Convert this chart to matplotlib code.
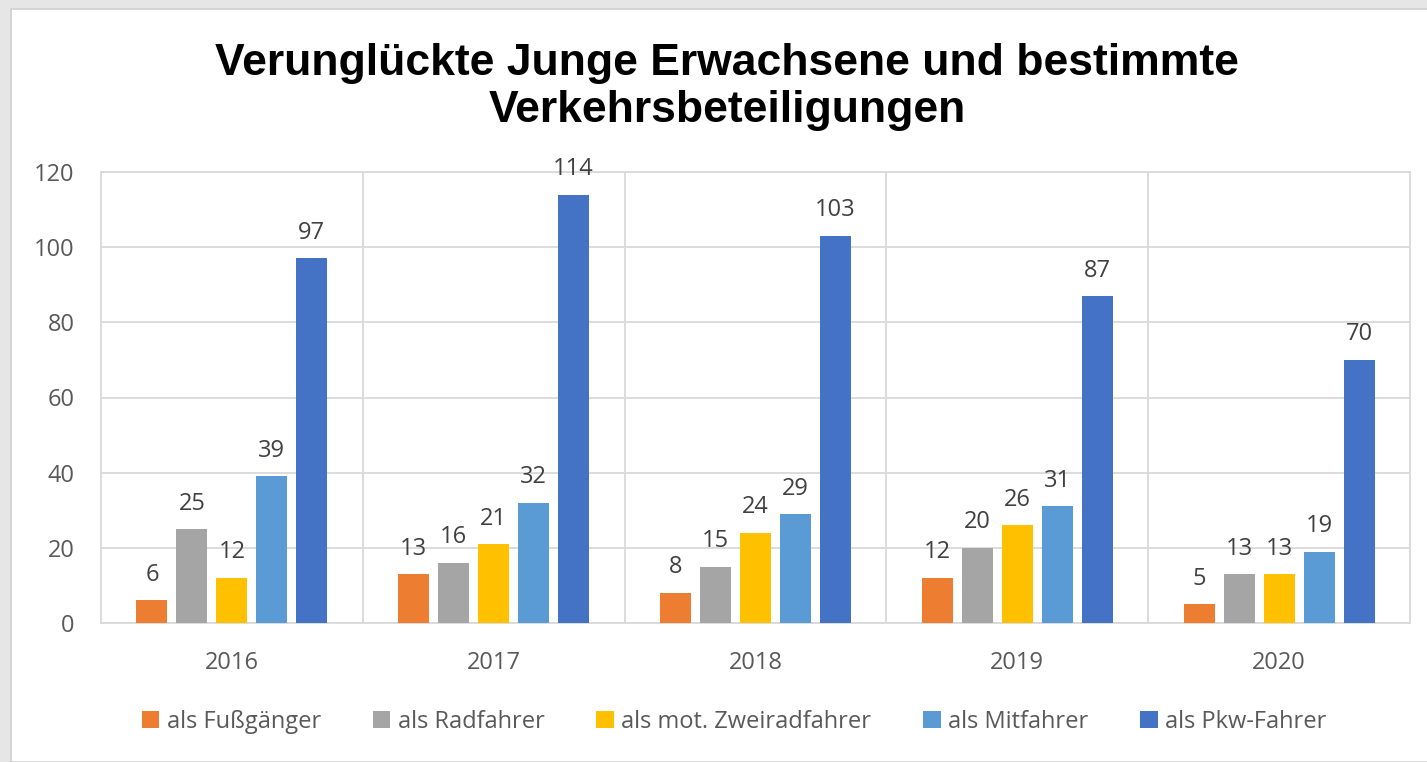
import matplotlib
matplotlib.use("Agg")
import matplotlib.pyplot as plt
import numpy as np
from matplotlib.patches import Rectangle, Patch

YEARS = ["2016", "2017", "2018", "2019", "2020"]
SERIES = ["als Fußgänger", "als Radfahrer", "als mot. Zweiradfahrer", "als Mitfahrer", "als Pkw-Fahrer"]
FUSS = [6, 13, 8, 12, 5]
RAD = [25, 16, 15, 20, 13]
ZWEIRAD = [12, 21, 24, 26, 13]
MIT = [39, 32, 29, 31, 19]
PKW = [97, 114, 103, 87, 70]
VALUES = [FUSS, RAD, ZWEIRAD, MIT, PKW]
COLORS = ["#ED7D31", "#A5A5A5", "#FFC000", "#5B9BD5", "#4472C4"]

TXT = "#595959"
GRID = "#D9D9D9"
FONT = "Open Sans"

W, H = 1427, 762
fig = plt.figure(figsize=(W / 100, H / 100), dpi=100)
fig.patch.set_facecolor("#E6E6E6")
# white chart area inside the grey frame
fig.patches.append(Rectangle((11 / W, 0), 1.0, 1 - 9 / H, transform=fig.transFigure,
                             facecolor="white", edgecolor="#D0D0D0", linewidth=1.2, zorder=-10))

ax = fig.add_axes([101 / W, 139 / H, (1410 - 101) / W, (623 - 172) / H])
ax.set_facecolor("white")

x = np.arange(len(YEARS))
step = 40 / 262
width = 31 / 262
for i, (vals, col) in enumerate(zip(VALUES, COLORS)):
    pos = x + (i - 2) * step
    ax.bar(pos, vals, width=width, color=col, zorder=3)
    for px, v in zip(pos, vals):
        ax.annotate(str(v), (px, v), xytext=(0, 14), textcoords="offset points",
                    ha="center", va="baseline", fontsize=17, color="#404040", family=FONT)

ax.set_xlim(-0.5, 4.5)
ax.set_ylim(0, 120)
ax.set_yticks(range(0, 121, 20))
ax.yaxis.grid(True, color=GRID, linewidth=1.3, zorder=0)
for b in np.arange(0.5, 4.5, 1):
    ax.axvline(b, color=GRID, linewidth=1.3, zorder=0)
for s in ax.spines.values():
    s.set_color(GRID)
    s.set_linewidth(1.3)
ax.set_xticks(x)
ax.set_xticklabels(YEARS)
ax.tick_params(axis="y", length=0, pad=19, labelsize=17, labelcolor=TXT)
ax.tick_params(axis="x", length=0, pad=20, labelsize=17, labelcolor=TXT)
for lab in ax.get_xticklabels() + ax.get_yticklabels():
    lab.set_family(FONT)

fig.text(727 / W, 1 - 87 / H, "Verunglückte Junge Erwachsene und bestimmte\nVerkehrsbeteiligungen",
         ha="center", va="center", fontsize=32, fontweight="bold",
         family="Liberation Sans", linespacing=1.17)

handles = [Patch(facecolor=c, label=s) for s, c in zip(SERIES, COLORS)]
leg = fig.legend(handles=handles, loc="center", bbox_to_anchor=(734 / W, 1 - 722 / H), ncol=5,
                 frameon=False, handlelength=0.75, handleheight=0.75, handletextpad=0.3,
                 columnspacing=2.2, prop={"family": FONT, "size": 17})
for t in leg.get_texts():
    t.set_color(TXT)

fig.savefig("out.png", dpi=100)
